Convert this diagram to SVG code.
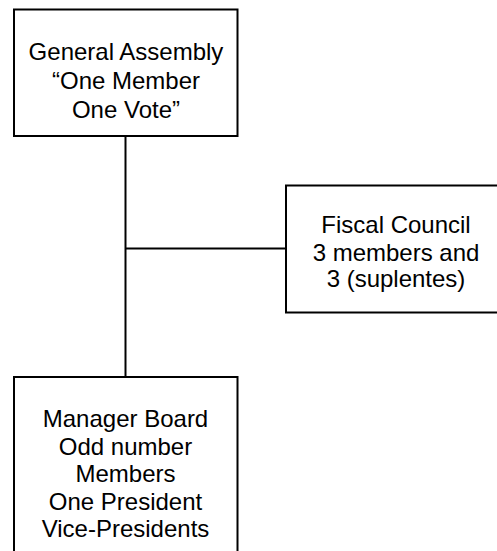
<svg xmlns="http://www.w3.org/2000/svg" width="497" height="551" viewBox="0 0 497 551">
<style>
.box{fill:#fff;stroke:#000;stroke-width:2}
.c{fill:none;stroke:#000;stroke-width:2}
text{font-family:"Liberation Sans",Arial,sans-serif;font-size:24px;fill:#000;text-anchor:middle}
</style>
<rect width="497" height="551" fill="#fff"/>
<g id="connectors">
<line class="c" x1="125.5" y1="136" x2="125.5" y2="377"/>
<line class="c" x1="125.5" y1="248.5" x2="286" y2="248.5"/>
</g>
<g id="general-assembly">
<rect class="box" x="14" y="9.5" width="223.5" height="126.5"/>
<text x="126" y="60">General Assembly</text>
<text x="126" y="89">“One Member</text>
<text x="126" y="118">One Vote”</text>
</g>
<g id="fiscal-council">
<rect class="box" x="286" y="185.5" width="220" height="127"/>
<text x="396" y="233">Fiscal Council</text>
<text x="396" y="260.5">3 members and</text>
<text x="396" y="287">3 (suplentes)</text>
</g>
<g id="manager-board">
<rect class="box" x="14" y="377" width="223.5" height="190"/>
<text x="125.5" y="426.5">Manager Board</text>
<text x="125.5" y="454.5">Odd number</text>
<text x="125.5" y="482">Members</text>
<text x="125.5" y="510">One President</text>
<text x="125.5" y="537">Vice-Presidents</text>
</g>
</svg>
